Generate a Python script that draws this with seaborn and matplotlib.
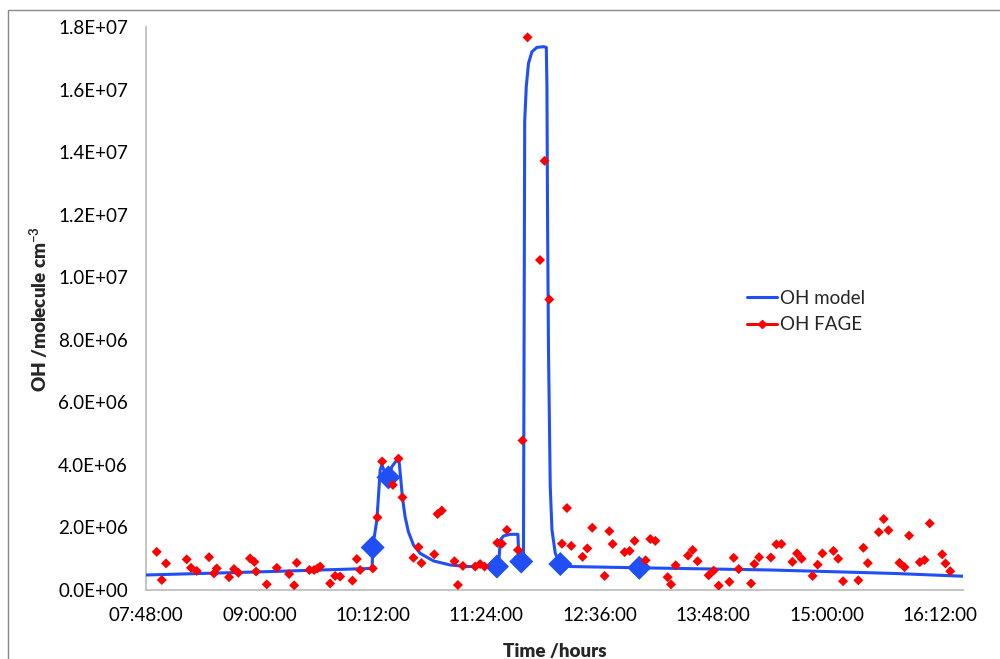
import matplotlib
matplotlib.use("Agg")
import matplotlib.pyplot as plt
import seaborn as sns
import pandas as pd
from matplotlib.lines import Line2D
from matplotlib.patches import Rectangle

# ---------------- data ----------------
model_time = ["07:48:00", "09:00:00", "10:11:30", "10:11:48", "10:14:30", "10:16:36",
              "10:17:42", "10:19:42", "10:21:48", "10:24:00", "10:27:12", "10:28:36",
              "10:29:42", "10:30:42", "10:32:24", "10:34:30", "10:37:42", "10:42:00",
              "10:50:24", "11:01:00", "11:11:36", "11:31:42", "11:32:48", "11:34:54",
              "11:39:06", "11:44:00", "11:44:24", "11:45:06", "11:47:30", "11:48:18",
              "11:49:18", "11:50:42", "11:52:54", "11:56:06", "12:00:18", "12:02:00",
              "12:02:24", "12:02:48", "12:03:24", "12:04:06", "12:04:30", "12:05:36",
              "12:07:42", "12:10:54", "12:17:12", "13:01:00", "14:24:12", "15:00:12",
              "15:42:18", "16:26:42"]
model_oh = [4.8e5, 5.8e5, 6.9e5, 1.36e6, 2.24e6, 3.84e6,
            4.0e6, 3.73e6, 3.58e6, 3.94e6, 4.16e6, 4.10e6,
            3.52e6, 2.96e6, 2.34e6, 1.86e6, 1.44e6, 1.17e6,
            9.3e5, 8.0e5, 7.5e5, 7.5e5, 1.60e6, 1.73e6,
            1.78e6, 1.78e6, 1.22e6, 9.1e5, 9.1e5, 1.50e7,
            1.61e7, 1.684e7, 1.721e7, 1.735e7, 1.737e7, 1.735e7,
            1.61e7, 1.183e7, 7.58e6, 4.90e6, 3.30e6, 1.92e6,
            1.17e6, 8.3e5, 7.5e5, 7.1e5, 6.4e5, 5.9e5,
            5.3e5, 4.4e5]

marker_time = ["10:11:50", "10:21:50", "11:30:40", "11:46:06", "12:10:54", "13:01:00"]
marker_oh = [1.36e6, 3.60e6, 7.5e5, 9.1e5, 8.3e5, 7.1e5]

fage_time = ["07:54:48", "07:58:00", "08:00:42", "08:13:50", "08:16:34", "08:20:12",
             "08:28:00", "08:31:10", "08:32:53", "08:40:42", "08:43:52", "08:46:36",
             "08:54:00", "08:56:46", "08:57:50", "09:04:38", "09:11:00", "09:18:48",
             "09:22:00", "09:23:41", "09:31:41", "09:34:40", "09:36:48", "09:38:30",
             "09:44:50", "09:48:00", "09:51:10", "09:59:00", "10:01:46", "10:03:52",
             "10:11:56", "10:14:52", "10:17:50", "10:24:38", "10:28:12", "10:30:44",
             "10:37:42", "10:40:54", "10:42:48", "10:50:54", "10:53:00", "10:55:42",
             "11:03:44", "11:05:54", "11:09:05", "11:16:54", "11:20:00", "11:22:48",
             "11:30:54", "11:33:50", "11:37:00", "11:44:00", "11:46:54", "11:50:06",
             "11:58:00", "12:00:54", "12:03:54", "12:11:56", "12:15:06", "12:17:50",
             "12:25:00", "12:28:00", "12:31:10", "12:39:00", "12:42:00", "12:44:06",
             "12:51:42", "12:54:53", "12:58:00", "13:05:00", "13:08:00", "13:11:10",
             "13:19:00", "13:21:07", "13:24:05", "13:31:56", "13:34:52", "13:38:00",
             "13:45:00", "13:48:12", "13:51:22", "13:58:10", "14:00:54", "14:04:05",
             "14:11:56", "14:14:00", "14:17:00", "14:24:30", "14:28:00", "14:31:10",
             "14:38:10", "14:41:07", "14:44:00", "14:51:00", "14:54:12", "14:57:12",
             "15:04:12", "15:07:12", "15:10:18", "15:20:00", "15:23:12", "15:26:00",
             "15:33:00", "15:36:06", "15:39:06", "15:46:06", "15:49:18", "15:52:12",
             "15:59:00", "16:02:00", "16:05:18", "16:13:12", "16:15:18", "16:18:18"]
fage_oh = [1.22e6, 3.2e5, 8.5e5, 9.8e5, 7.1e5, 6.1e5,
           1.05e6, 5.3e5, 6.9e5, 4.1e5, 6.7e5, 5.5e5,
           1.01e6, 9.0e5, 5.9e5, 1.8e5, 7.1e5, 5.1e5,
           1.5e5, 8.7e5, 6.4e5, 6.4e5, 6.9e5, 7.5e5,
           2.1e5, 4.5e5, 4.3e5, 3.0e5, 9.9e5, 6.4e5,
           6.9e5, 2.32e6, 4.11e6, 3.36e6, 4.20e6, 2.96e6,
           1.03e6, 1.37e6, 8.6e5, 1.14e6, 2.43e6, 2.54e6,
           9.2e5, 1.6e5, 7.7e5, 7.5e5, 8.3e5, 7.5e5,
           1.51e6, 1.48e6, 1.92e6, 1.28e6, 4.78e6, 1.767e7,
           1.055e7, 1.372e7, 9.29e6, 1.48e6, 2.62e6, 1.41e6,
           1.06e6, 1.33e6, 1.99e6, 4.5e5, 1.88e6, 1.47e6,
           1.21e6, 1.25e6, 1.57e6, 9.5e5, 1.63e6, 1.57e6,
           4.1e5, 1.8e5, 7.9e5, 1.10e6, 1.28e6, 9.2e5,
           4.7e5, 6.2e5, 1.4e5, 2.6e5, 1.03e6, 6.7e5,
           2.1e5, 8.3e5, 1.05e6, 1.04e6, 1.46e6, 1.47e6,
           9.0e5, 1.17e6, 1.0e6, 4.5e5, 8.1e5, 1.17e6,
           1.25e6, 1.0e6, 2.8e5, 3.1e5, 1.35e6, 8.6e5,
           1.85e6, 2.27e6, 1.91e6, 8.7e5, 7.3e5, 1.74e6,
           8.9e5, 9.6e5, 2.13e6, 1.14e6, 8.5e5, 6.0e5]

x_tick_labels = ["07:48:00", "09:00:00", "10:12:00", "11:24:00",
                 "12:36:00", "13:48:00", "15:00:00", "16:12:00"]
x_limits = ["07:48:00", "16:26:24"]
y_ticks = [0, 2e6, 4e6, 6e6, 8e6, 1e7, 1.2e7, 1.4e7, 1.6e7, 1.8e7]


def to_min(s):
    h, m, sec = s.split(":")
    return int(h) * 60 + int(m) + int(sec) / 60.0


model_df = pd.DataFrame({"t": [to_min(s) for s in model_time], "oh": model_oh})
marker_df = pd.DataFrame({"t": [to_min(s) for s in marker_time], "oh": marker_oh})
fage_df = pd.DataFrame({"t": [to_min(s) for s in fage_time], "oh": fage_oh})

# ---------------- style ----------------
sns.set_style("white")
plt.rcParams["font.family"] = ["Lato", "DejaVu Sans"]
plt.rcParams["mathtext.fontset"] = "custom"
plt.rcParams["mathtext.rm"] = "Lato"
plt.rcParams["mathtext.bf"] = "Lato:bold"

BLUE = "#1F4FF5"
RED = "#FF0000"
GREY = "#BFBFBF"

fig = plt.figure(figsize=(10, 6.59), dpi=100)
ax = fig.add_axes([0.146, 0.1047, 0.817, 0.8543])

sns.lineplot(data=model_df, x="t", y="oh", ax=ax, color=BLUE, linewidth=2.2,
             sort=False, estimator=None, legend=False, zorder=3)
sns.scatterplot(data=marker_df, x="t", y="oh", ax=ax, color=BLUE, marker="D",
                s=150, edgecolor="none", legend=False, zorder=4)
sns.scatterplot(data=fage_df, x="t", y="oh", ax=ax, color=RED, marker="D",
                s=26, edgecolor="none", legend=False, zorder=5)

ax.set_xlim(to_min(x_limits[0]), to_min(x_limits[1]))
ax.set_ylim(0, 1.8e7)
ax.set_xticks([to_min(s) for s in x_tick_labels])
ax.set_xticklabels(x_tick_labels)
ax.set_yticks(y_ticks)
ax.set_yticklabels([f"{v:.1E}" for v in y_ticks])

for side in ["top", "right"]:
    ax.spines[side].set_visible(False)
for side in ["left", "bottom"]:
    ax.spines[side].set_color(GREY)
    ax.spines[side].set_linewidth(1.3)

ax.tick_params(axis="both", which="major", direction="out", length=5, width=1,
               color=GREY, labelsize=13.5, labelcolor="#000000")
ax.tick_params(axis="y", pad=8)
ax.tick_params(axis="x", pad=7)

ax.set_xlabel("Time /hours", fontsize=13.5, fontweight="heavy", labelpad=14)
ax.set_ylabel(r"OH /molecule cm$^{\mathbf{-3}}$", fontsize=13.5, fontweight="heavy",
              labelpad=6)

handles = [Line2D([0], [0], color=BLUE, lw=2.2),
           Line2D([0], [0], color=RED, lw=2.2, marker="D", markersize=4)]
ax.legend(handles, ["OH model", "OH FAGE"], loc="upper left",
          bbox_to_anchor=(0.715, 0.563), frameon=False, fontsize=13.5,
          handlelength=1.6, handletextpad=0.15, labelspacing=0.5)

fig.patches.append(Rectangle((0.008, -0.1), 1.2, 1.085, transform=fig.transFigure,
                             fill=False, edgecolor="#888888", linewidth=1.0))

fig.savefig("out.png", dpi=100)
